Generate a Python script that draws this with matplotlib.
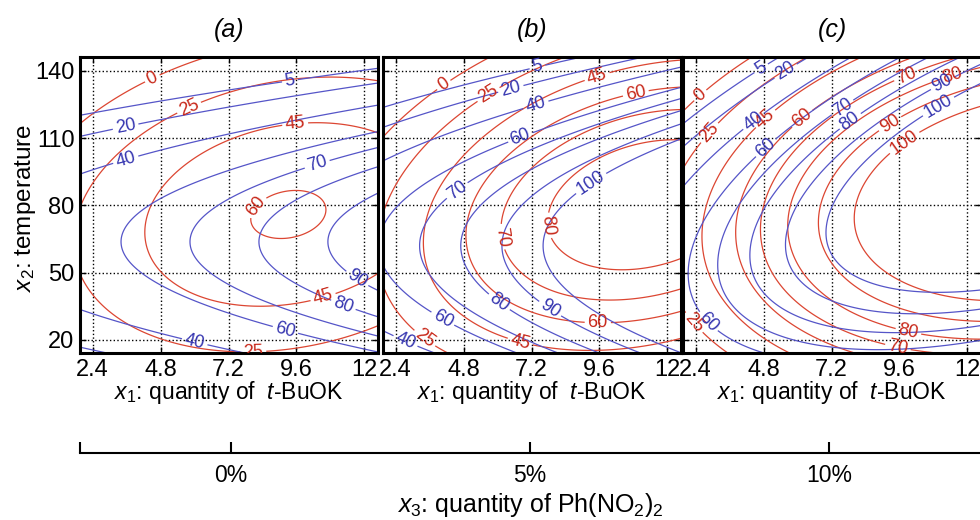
import numpy as np
import matplotlib.pyplot as plt

plt.rcParams['font.family'] = ['Liberation Sans', 'DejaVu Sans']
plt.rcParams['mathtext.fontset'] = 'custom'
plt.rcParams['mathtext.rm'] = 'Liberation Sans'
plt.rcParams['mathtext.it'] = 'Liberation Sans:italic'

# quadratic response surfaces in coded units
# u = (x1 - 7.2) / 4.8 , v = (x2 - 80) / 60
# coefficient order: b0, b1(u), b2(v), b11(u^2), b22(v^2), b12(uv)
panel_titles = ['(a)', '(b)', '(c)']
x3_values = [0, 5, 10]
x3_labels = ['0%', '5%', '10%']

red_coef = [
    [57.77, 13.81, -8.83, -15.0, -36.0, 9.1],
    [76.19, 29.31, -11.24, -17.16, -40.0, 13.6],
    [93.35, 39.92, -9.26, -13.6, -40.0, 9.6],
]
blue_coef = [
    [71.55, 19.7, -29.97, 0.0, -55.5, 0.0],
    [92.43, 33.0, -31.8, 0.0, -53.0, 0.0],
    [99.75, 35.2, -15.96, -12.0, -42.0, 25.2],
]
red_levels = [0, 25, 45, 60, 70, 80, 90, 100]
blue_levels = [5, 20, 40, 60, 70, 80, 90, 100]

x1_ticks = [2.4, 4.8, 7.2, 9.6, 12]
x1_ticklabels = ['2.4', '4.8', '7.2', '9.6', '12']
x2_ticks = [20, 50, 80, 110, 140]

# where the contour labels sit (level, x1, x2)
red_label_pos = [
    [(0, 4.53, 136), (25, 5.84, 122.6), (45, 9.56, 115.4), (60, 8.25, 78.8),
     (45, 10.5, 40.9), (25, 8.07, 16.3)],
    [(0, 3.92, 137), (25, 5.56, 131.9), (45, 9.49, 138.5), (60, 10.89, 129.6),
     (70, 6.15, 66), (80, 7.9, 71.2), (60, 9.54, 27.6), (45, 6.79, 18.7),
     (25, 3.39, 20.2)],
    [(0, 2.57, 129), (25, 2.92, 112), (45, 4.86, 118.7), (60, 6.16, 118.7),
     (70, 9.76, 140.2), (80, 11.41, 140.2), (90, 9.23, 117.2), (100, 9.76, 108.3),
     (80, 9.88, 21.8), (70, 9.53, 16), (25, 2.27, 27)],
]
blue_label_pos = [
    [(5, 9.39, 133.75), (20, 3.6, 112.8), (40, 3.6, 98.9), (70, 10.34, 98),
     (90, 11.6, 44.5), (80, 11.16, 32.4), (60, 9.14, 21.25), (40, 5.95, 16.3)],
    [(5, 7.44, 140), (20, 6.5, 130.4), (40, 7.38, 123.7), (60, 6.85, 109),
     (70, 4.57, 86.7), (100, 9.31, 89.7), (90, 7.79, 32.7), (80, 6.03, 36.5),
     (60, 4.04, 29), (40, 2.69, 18)],
    [(5, 4.8, 139.4), (20, 5.75, 136.4), (40, 4.33, 119.4), (60, 4.69, 108.3),
     (70, 7.7, 121.6), (80, 7.88, 117.2), (90, 11.35, 129), (100, 11.06, 122.4),
     (60, 2.86, 28.4)],
]

red = '#dc4632'
blue = '#5555c8'
W, H = 980, 520


def surface(c, X1, X2):
    u = (X1 - 7.2) / 4.8
    v = (X2 - 80) / 60
    return c[0] + c[1]*u + c[2]*v + c[3]*u**2 + c[4]*v**2 + c[5]*u*v


def draw_contours(ax, Z, levels, positions, color, label_color):
    # one contour set per level so every label lands on its own level
    for lev in levels:
        if not (Z.min() < lev < Z.max()):
            continue
        cs = ax.contour(X1, X2, Z, levels=[lev], colors=color, linewidths=0.9)
        pts = [(p[1], p[2]) for p in positions if p[0] == lev]
        if pts:
            txt = cs.clabel(manual=pts, inline=True, inline_spacing=3,
                            fmt='%d', fontsize=13)
            for t in txt:
                t.set_color(label_color)


fig = plt.figure(figsize=(W/100, H/100), dpi=100)

x1 = np.linspace(1.95, 12.48, 300)
x2 = np.linspace(14.2, 146.2, 300)
X1, X2 = np.meshgrid(x1, x2)

lefts = [80, 383, 683]
for i in range(3):
    l = lefts[i]
    ax = fig.add_axes([l/W, 1 - 353/H, 298/W, 296/H])
    Zr = surface(red_coef[i], X1, X2)
    Zb = surface(blue_coef[i], X1, X2)
    draw_contours(ax, Zr, red_levels, red_label_pos[i], red, '#c8281a')
    draw_contours(ax, Zb, blue_levels, blue_label_pos[i], blue, '#3535b0')

    ax.set_xlim(1.95, 12.48)
    ax.set_ylim(14.2, 146.2)
    ax.set_xticks(x1_ticks)
    ax.set_xticklabels(x1_ticklabels)
    ax.set_yticks(x2_ticks)
    ax.grid(True, linestyle=':', color='k', linewidth=1)
    ax.tick_params(direction='in', top=True, right=True, length=4, width=1,
                   labelsize=17, pad=4)
    if i > 0:
        ax.set_yticklabels([])
    for s in ax.spines.values():
        s.set_linewidth(2.2)

    cx = (l + 149) / W
    fig.text(cx, 1 - 30/H, panel_titles[i], ha='center', va='center',
             fontsize=18, style='italic')
    fig.text(cx, 1 - 392/H, r'$\mathit{x}_{\mathit{1}}$: quantity of  $\mathit{t}$-BuOK',
             ha='center', va='center', fontsize=16.5)

fig.text(25/W, 1 - 208/H, r'$\mathit{x}_{\mathit{2}}$: temperature', rotation=90,
         ha='center', va='center', fontsize=17.5)

# bottom axis for x3
ax3 = fig.add_axes([80/W, 1 - 453/H, 900/W, 0.0001])
ax3.set_xlim(-2.525, 12.525)
ax3.set_xticks(x3_values)
ax3.set_xticklabels(x3_labels)
ax3.set_xticks([-2.525], minor=True)
ax3.set_yticks([])
for s in ['top', 'left', 'right']:
    ax3.spines[s].set_visible(False)
ax3.spines['bottom'].set_linewidth(1.5)
ax3.tick_params(axis='x', which='both', direction='in', length=8, width=1.5,
                labelsize=16.5, pad=8)
ax3.patch.set_visible(False)

fig.text(530/W, 1 - 505/H, r'$\mathit{x}_{\mathit{3}}$: quantity of Ph(NO$_2$)$_2$',
         ha='center', va='center', fontsize=18)

fig.savefig('out.png', dpi=100)
